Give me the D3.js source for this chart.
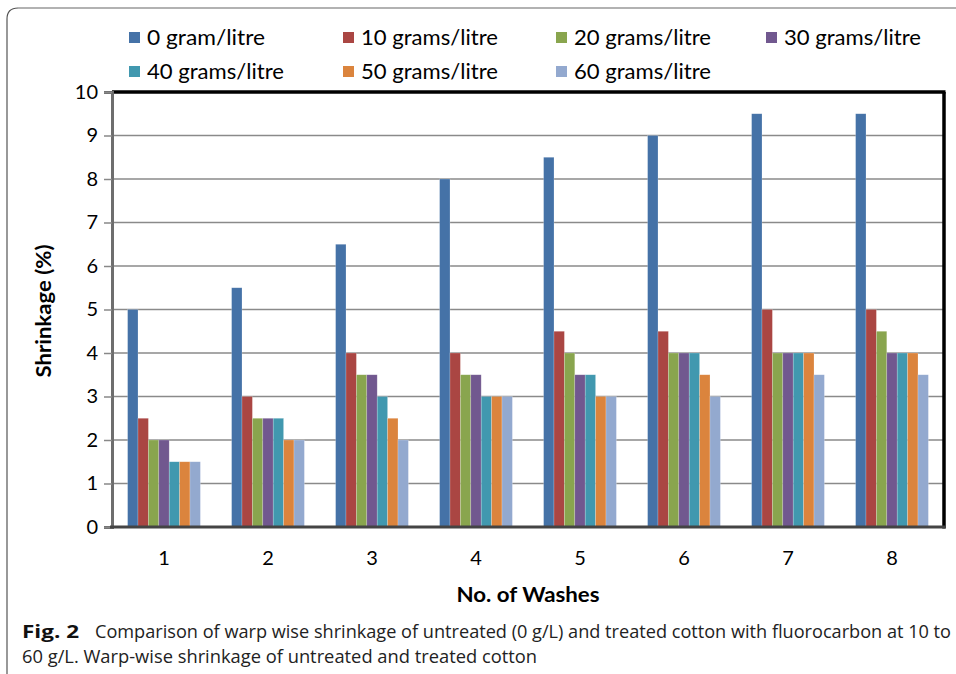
<!DOCTYPE html>
<html>
<head>
<meta charset="utf-8">
<script src="https://cdn.jsdelivr.net/npm/d3@7/dist/d3.min.js"></script>
<style>
  html, body { margin: 0; padding: 0; background: #fff; }
  svg { display: block; }
</style>
</head>
<body>
<svg id="chart" width="956" height="674"></svg>
<script>
// Wash counts along the x axis
const washes = ["1", "2", "3", "4", "5", "6", "7", "8"];

// Concentration series (legend labels)
const seriesNames = ["0 gram/litre", "10 grams/litre", "20 grams/litre", "30 grams/litre",
                     "40 grams/litre", "50 grams/litre", "60 grams/litre"];

// Shrinkage (%) per series, one value per wash
const s0  = [5, 5.5, 6.5, 8, 8.5, 9, 9.5, 9.5];
const s10 = [2.5, 3, 4, 4, 4.5, 4.5, 5, 5];
const s20 = [2, 2.5, 3.5, 3.5, 4, 4, 4, 4.5];
const s30 = [2, 2.5, 3.5, 3.5, 3.5, 4, 4, 4];
const s40 = [1.5, 2.5, 3, 3, 3.5, 4, 4, 4];
const s50 = [1.5, 2, 2.5, 3, 3, 3.5, 4, 4];
const s60 = [1.5, 2, 2, 3, 3, 3, 3.5, 3.5];

const yTicks = [0, 1, 2, 3, 4, 5, 6, 7, 8, 9, 10];

const colors = ["#4572A7", "#AA4643", "#89A54E", "#71588F", "#4198AF", "#DB843D", "#93A9CF"];

const seriesValues = [s0, s10, s20, s30, s40, s50, s60];
const series = seriesNames.map((name, i) => ({ name, values: seriesValues[i], color: colors[i] }));

const svg = d3.select("#chart");
const font = "Lato, 'Open Sans', sans-serif";

// outer figure frame with rounded top-left corner
svg.append("path")
  .attr("d", "M7,676 L7,19 Q7,8 18,8")
  .attr("fill", "none").attr("stroke", "#555").attr("stroke-width", 1.2);
svg.append("line").attr("x1", 18).attr("x2", 960).attr("y1", 8).attr("y2", 8)
  .attr("stroke", "#999").attr("stroke-width", 1.5);

const plot = { left: 112, right: 944, top: 92, bottom: 527 };

const x0 = d3.scaleBand().domain(washes).range([plot.left, plot.right])
  .paddingInner(0.3).paddingOuter(0.15);
const x1 = d3.scaleBand().domain(seriesNames).range([0, x0.bandwidth()]).padding(0);
const y = d3.scaleLinear().domain([0, 10]).range([plot.bottom, plot.top]);

// horizontal gridlines
svg.append("g").selectAll("line")
  .data(yTicks.filter(t => t > 0 && t < 10))
  .join("line")
  .attr("x1", plot.left).attr("x2", plot.right)
  .attr("y1", d => y(d)).attr("y2", d => y(d))
  .attr("stroke", "#8a8a8a").attr("stroke-width", 1.6);

// bars
const groups = svg.append("g").selectAll("g")
  .data(washes)
  .join("g")
  .attr("transform", d => `translate(${x0(d)},0)`);

groups.selectAll("rect")
  .data((w, wi) => series.map(s => ({ name: s.name, color: s.color, v: s.values[wi] })))
  .join("rect")
  .attr("x", d => x1(d.name))
  .attr("width", x1.bandwidth())
  .attr("y", d => y(d.v))
  .attr("height", d => y(0) - y(d.v))
  .attr("fill", d => d.color)
  .attr("stroke", "rgba(255,255,255,0.35)")
  .attr("stroke-width", 0.6);

// plot frame: black top and right, grey left and bottom axes
svg.append("line").attr("x1", plot.left).attr("x2", plot.right + 1.5)
  .attr("y1", plot.top).attr("y2", plot.top)
  .attr("stroke", "#000").attr("stroke-width", 3.5);
svg.append("line").attr("x1", plot.right).attr("x2", plot.right)
  .attr("y1", plot.top).attr("y2", plot.bottom + 1.5)
  .attr("stroke", "#000").attr("stroke-width", 3.5);

// y axis
const yAxis = d3.axisLeft(y).tickValues(yTicks).tickSize(8).tickPadding(6)
  .tickFormat(d3.format("d"));
const yg = svg.append("g").attr("transform", `translate(${plot.left},0)`).call(yAxis);
yg.select(".domain").attr("stroke", "#6e6e6e").attr("stroke-width", 3);
yg.selectAll(".tick line").attr("stroke", "#888").attr("stroke-width", 1.5);
yg.selectAll(".tick text").attr("font-family", font).attr("font-size", 20).attr("fill", "#000");

// x axis
const xAxis = d3.axisBottom(x0).tickSize(0).tickPadding(24);
const xg = svg.append("g").attr("transform", `translate(0,${plot.bottom})`).call(xAxis);
xg.select(".domain").attr("stroke", "#444").attr("stroke-width", 3)
  .attr("d", `M${plot.left - 2},0H${plot.right + 1.5}`);
xg.selectAll(".tick text").attr("font-family", font).attr("font-size", 20).attr("fill", "#000");

// axis titles
svg.append("text").attr("x", 528).attr("y", 602).attr("text-anchor", "middle")
  .attr("font-family", font).attr("font-weight", "bold").attr("font-size", 21)
  .attr("textLength", 143).attr("lengthAdjust", "spacingAndGlyphs")
  .text("No. of Washes");
svg.append("text").attr("transform", "translate(51,311) rotate(-90)").attr("text-anchor", "middle")
  .attr("font-family", font).attr("font-weight", "bold").attr("font-size", 21)
  .attr("textLength", 133).attr("lengthAdjust", "spacingAndGlyphs")
  .text("Shrinkage (%)");

// legend
const legendPos = [[129, 38], [343, 38], [556, 38], [766, 38], [129, 72], [343, 72], [556, 72]];
const legendWidths = [118, 137, 137, 137, 137, 137, 137];
const legend = svg.append("g").selectAll("g")
  .data(series)
  .join("g")
  .attr("transform", (d, i) => `translate(${legendPos[i][0]},${legendPos[i][1]})`);
legend.append("rect").attr("x", 0).attr("y", -6).attr("width", 11).attr("height", 11)
  .attr("fill", d => d.color);
legend.append("text").attr("x", 18).attr("y", 0).attr("dy", "0.35em")
  .attr("font-family", font).attr("font-size", 21).attr("fill", "#000")
  .attr("textLength", (d, i) => legendWidths[i]).attr("lengthAdjust", "spacingAndGlyphs")
  .text(d => d.name);

// caption
const capFont = "'Open Sans', sans-serif";
svg.append("text").attr("x", 22).attr("y", 638)
  .attr("font-family", capFont).attr("font-size", 18).attr("font-weight", "bold")
  .attr("fill", "#111").attr("textLength", 57).attr("lengthAdjust", "spacingAndGlyphs")
  .text("Fig. 2");
svg.append("text").attr("x", 95).attr("y", 638)
  .attr("font-family", capFont).attr("font-size", 17.5).attr("fill", "#222")
  .attr("textLength", 856).attr("lengthAdjust", "spacingAndGlyphs")
  .text("Comparison of warp wise shrinkage of untreated (0 g/L) and treated cotton with fluorocarbon at 10 to");
svg.append("text").attr("x", 22).attr("y", 663)
  .attr("font-family", capFont).attr("font-size", 17.5).attr("fill", "#222")
  .attr("textLength", 515).attr("lengthAdjust", "spacingAndGlyphs")
  .text("60 g/L. Warp-wise shrinkage of untreated and treated cotton");
</script>
</body>
</html>
